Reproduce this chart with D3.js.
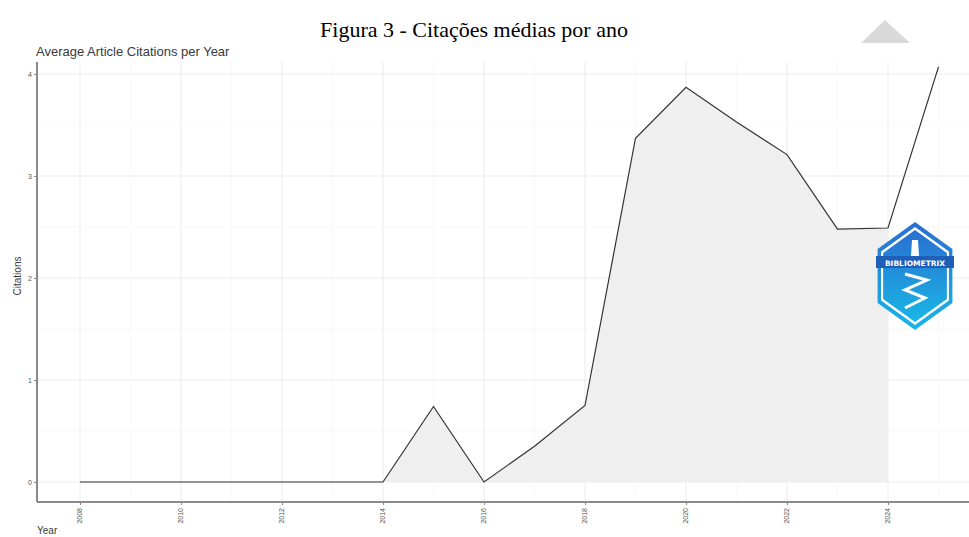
<!DOCTYPE html>
<html><head><meta charset="utf-8">
<script src="https://cdn.jsdelivr.net/npm/d3@7"></script>
<style>html,body{margin:0;padding:0;background:#fff;}svg{display:block;}</style>
</head><body>
<svg id="c" width="969" height="537"></svg>
<script>
const years = [2008,2009,2010,2011,2012,2013,2014,2015,2016,2017,2018,2019,2020,2021,2022,2023,2024,2025];
const citations = [0,0,0,0,0,0,0,0.74,0,0.35,0.75,3.37,3.87,3.53,3.21,2.48,2.49,4.07];
const xTicks = [2008,2010,2012,2014,2016,2018,2020,2022,2024];
const yTicks = [0,1,2,3,4];
const figTitle = "Figura 3 - Citações médias por ano";
const chartTitle = "Average Article Citations per Year";

const svg = d3.select("#c");
const panel = {left:37, right:969, top:62, bottom:502};
const x = d3.scaleLinear().domain([2008,2024]).range([80,888]);
const y = d3.scaleLinear().domain([0,4]).range([482,74]);

// grid
const g = svg.append("g");
const minorY = d3.range(-0.5,4.5,0.5).filter(v=>y(v)>panel.top && y(v)<panel.bottom);
g.selectAll(".hy").data(minorY).join("line")
  .attr("x1",panel.left).attr("x2",panel.right)
  .attr("y1",d=>y(d)).attr("y2",d=>y(d))
  .attr("stroke", d=>Number.isInteger(d)?"#ebebeb":"#f5f5f5").attr("stroke-width",d=>Number.isInteger(d)?1:0.7);
const minorX = d3.range(2007,2026,1).filter(v=>x(v)>panel.left && x(v)<panel.right);
g.selectAll(".vx").data(minorX).join("line")
  .attr("y1",panel.top).attr("y2",panel.bottom)
  .attr("x1",d=>x(d)).attr("x2",d=>x(d))
  .attr("stroke", d=>d%2===0?"#ebebeb":"#f5f5f5").attr("stroke-width",d=>d%2===0?1:0.7);

// area up to 2024
const areaData = years.map((yr,i)=>({yr, v:citations[i]})).filter(d=>d.yr<=2024);
const lineData = years.map((yr,i)=>({yr, v:citations[i]}));
svg.append("path").datum(areaData)
  .attr("d", d3.area().x(d=>x(d.yr)).y0(y(0)).y1(d=>y(d.v)))
  .attr("fill","#efefef");
svg.append("path").datum(lineData)
  .attr("d", d3.line().x(d=>x(d.yr)).y(d=>y(d.v)))
  .attr("fill","none").attr("stroke","#333").attr("stroke-width",1.2);

// axes
const ax = svg.append("g").attr("transform",`translate(0,${panel.bottom})`)
  .call(d3.axisBottom(x).tickValues(xTicks).tickFormat(d3.format("d")).tickSize(3));
ax.select(".domain").remove();
ax.append("line").attr("x1",panel.left).attr("x2",panel.right).attr("stroke","#8a8a8a").attr("stroke-width",2);
ax.selectAll(".tick line").attr("stroke","#8a8a8a");
ax.selectAll(".tick text").attr("transform","rotate(-90)").attr("x",-6).attr("y",-1).attr("dy","0.32em")
  .attr("text-anchor","end").attr("font-size",7).attr("font-family","Liberation Sans, Arial, sans-serif").attr("fill","#555");

const ay = svg.append("g").attr("transform",`translate(${panel.left},0)`)
  .call(d3.axisLeft(y).tickValues(yTicks).tickFormat(d3.format("d")).tickSize(3));
ay.select(".domain").remove();
ay.append("line").attr("y1",panel.top).attr("y2",panel.bottom).attr("stroke","#8a8a8a").attr("stroke-width",2);
ay.selectAll(".tick line").attr("stroke","#8a8a8a");
ay.selectAll(".tick text").attr("x",-5).attr("font-size",7).attr("font-family","Liberation Sans, Arial, sans-serif").attr("fill","#555");

// labels
svg.append("text").attr("x",474).attr("y",37).attr("text-anchor","middle")
  .attr("font-family","Liberation Serif, Times New Roman, serif").attr("font-size",22).attr("fill","#000").text(figTitle);
svg.append("text").attr("x",36).attr("y",56)
  .attr("font-family","Liberation Sans, Arial, sans-serif").attr("font-size",13).attr("fill","#3a3a3a").text(chartTitle);
svg.append("text").attr("transform","translate(21,276) rotate(-90)").attr("text-anchor","middle")
  .attr("font-family","Liberation Sans, Arial, sans-serif").attr("font-size",10).attr("fill","#3a3a3a").text("Citations");
svg.append("text").attr("x",37).attr("y",534)
  .attr("font-family","Liberation Sans, Arial, sans-serif").attr("font-size",10).attr("fill","#3a3a3a").text("Year");

// decorative triangle
svg.append("path").attr("d","M885,20 L910,43 L861,43 Z").attr("fill","#d9d9d9");

// logo
const defs = svg.append("defs");
const gr = defs.append("linearGradient").attr("id","lg").attr("x1","0").attr("y1","0").attr("x2","0").attr("y2","1");
gr.append("stop").attr("offset","0").attr("stop-color","#2a6fd0");
gr.append("stop").attr("offset","1").attr("stop-color","#19b6e6");
const cx=915, cy=276, r=54;
const hex = (rr)=>d3.range(6).map(i=>{const a=Math.PI/180*(60*i-90);return [cx+rr*Math.cos(a)*0.8, cy+rr*Math.sin(a)];});
svg.append("polygon").attr("points",hex(r).map(p=>p.join(",")).join(" ")).attr("fill","url(#lg)");
svg.append("polygon").attr("points",hex(r-5).map(p=>p.join(",")).join(" ")).attr("fill","#fff");
svg.append("polygon").attr("points",hex(r-8).map(p=>p.join(",")).join(" ")).attr("fill","url(#lg)");
svg.append("rect").attr("x",876).attr("y",256).attr("width",78).attr("height",12).attr("fill","#1f5fb8");
svg.append("text").attr("x",cx).attr("y",265.5).attr("text-anchor","middle").attr("font-family","DejaVu Sans, sans-serif")
  .attr("font-weight","bold").attr("font-size",7.5).attr("fill","#fff").text("BIBLIOMETRIX");
svg.append("path").attr("d",`M${cx-3},240 L${cx+3},240 L${cx+4},256 L${cx-4},256 Z`).attr("fill","#fff");
svg.append("path").attr("d",`M${cx-10},274 L${cx+12},280 L${cx-10},290 L${cx+10},298 L${cx-10},308`)
  .attr("fill","none").attr("stroke","#fff").attr("stroke-width",3);
</script>
</body></html>
